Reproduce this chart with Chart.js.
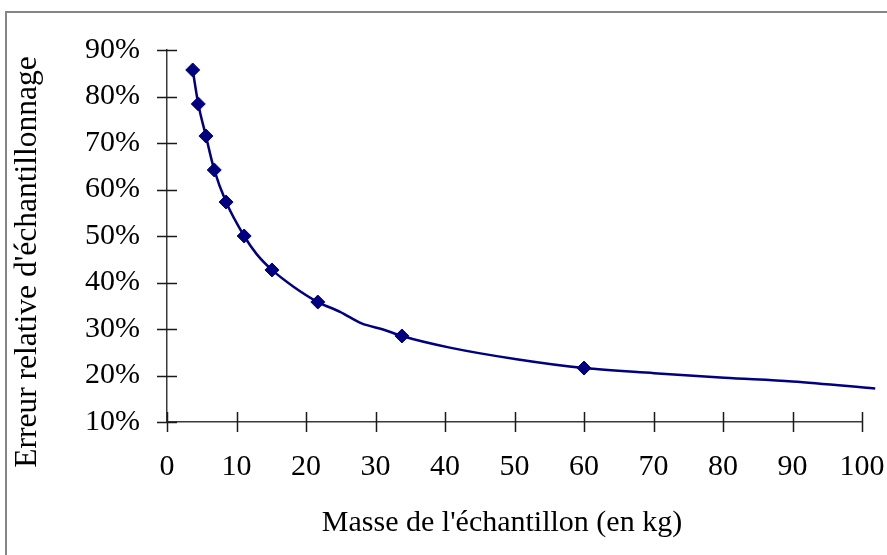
<!DOCTYPE html>
<html lang="fr">
<head>
    <meta charset="UTF-8">
    <title>Erreur relative d'échantillonnage</title>
    <script src="https://cdn.jsdelivr.net/npm/chart.js"></script>
    <style>
        body { margin: 0; background: #fff; }
        #wrap { position: relative; width: 887px; height: 555px; }
    </style>
</head>
<body>
<div id="wrap"><canvas id="errChart"></canvas></div>
<script>
    // measured samples (markers)
    const sampleMass = [3.7, 4.5, 5.6, 6.8, 8.5, 11.1, 15.1, 21.7, 33.8, 60];
    const sampleError = [85.7, 78.4, 71.5, 64.2, 57.3, 50.0, 42.7, 35.8, 28.5, 21.6];

    // fitted curve (no markers)
    const curveMass = [3.7, 4.5, 5.6, 6.8, 8.5, 11.1, 12.9, 15.1, 18.2, 21.7, 24.9, 28.0, 31.1, 33.8, 40.7, 50.3, 60, 70.1, 80.2, 90, 101.9];
    const curveError = [85.7, 78.4, 71.5, 64.2, 57.3, 50.0, 46.1, 42.7, 39.1, 35.8, 33.7, 31.2, 29.9, 28.5, 26.0, 23.5, 21.6, 20.5, 19.5, 18.7, 17.2];

    const xTicks = [0, 10, 20, 30, 40, 50, 60, 70, 80, 90, 100];
    const yTicks = [10, 20, 30, 40, 50, 60, 70, 80, 90];

    const xTitle = "Masse de l'échantillon (en kg)";
    const yTitle = "Erreur relative d'échantillonnage";
    const serif = '"Liberation Serif", "Times New Roman", serif';

    // outer frame like the Excel chart area
    const frame = {
        id: 'frame',
        beforeDraw(chart) {
            const ctx = chart.ctx;
            ctx.save();
            ctx.strokeStyle = '#858585';
            ctx.lineWidth = 2;
            ctx.strokeRect(6, 12, 1000, 1000);
            ctx.restore();
        }
    };

    // tick marks crossing the axes + axis titles
    const crossTicks = {
        id: 'crossTicks',
        beforeDatasetsDraw(chart) {
            const { ctx, scales: { x, y } } = chart;
            ctx.save();
            ctx.strokeStyle = '#1a1a1a';
            ctx.lineWidth = 1.5;
            ctx.beginPath();
            x.ticks.forEach(t => {
                const px = Math.round(x.getPixelForValue(t.value)) + 0.5;
                ctx.moveTo(px, x.top - 10);
                ctx.lineTo(px, x.top + 10);
            });
            y.ticks.forEach(t => {
                const py = Math.round(y.getPixelForValue(t.value)) + 0.5;
                ctx.moveTo(y.right - 10, py);
                ctx.lineTo(y.right + 10, py);
            });
            ctx.stroke();

            ctx.fillStyle = '#000';
            ctx.textAlign = 'center';
            ctx.textBaseline = 'middle';

            // x title is centred on the whole frame, not on the plot
            ctx.font = '30px ' + serif;
            ctx.fillText(xTitle, 502, 523);

            // y title sits a bit lower than the plot centre in the original
            ctx.translate(28, y.bottom - 160);
            ctx.rotate(-Math.PI / 2);
            ctx.font = '31.5px ' + serif;
            ctx.fillText(yTitle, 0, 0);
            ctx.restore();
        }
    };

    const ctx = document.getElementById('errChart').getContext('2d');
    new Chart(ctx, {
        type: 'scatter',
        data: {
            datasets: [{
                label: 'courbe',
                data: curveMass.map((m, i) => ({ x: m, y: curveError[i] })),
                showLine: true,
                borderColor: '#000080',
                borderWidth: 2.5,
                pointRadius: 0,
                cubicInterpolationMode: 'monotone',
                clip: false
            }, {
                label: 'échantillons',
                data: sampleMass.map((m, i) => ({ x: m, y: sampleError[i] })),
                showLine: false,
                pointStyle: 'rectRot',
                pointRadius: 7,
                backgroundColor: '#000080',
                borderColor: '#000080',
                borderWidth: 1
            }]
        },
        options: {
            responsive: true,
            maintainAspectRatio: false,
            animation: false,
            layout: { padding: { left: 5, top: 50, right: 25, bottom: 0 } },
            plugins: {
                legend: { display: false },
                tooltip: { enabled: false }
            },
            scales: {
                x: {
                    type: 'linear',
                    min: 0,
                    max: 100,
                    afterFit(scale) {
                        scale.height = 133;
                        // labels may hang over the edges, the layout padding covers it
                        scale.paddingLeft = 0;
                        scale.paddingRight = 0;
                    },
                    afterBuildTicks(scale) { scale.ticks = xTicks.map(v => ({ value: v })); },
                    grid: { display: true, drawOnChartArea: false, drawTicks: false },
                    border: { display: true, color: '#3a3a3a', width: 1.5 },
                    ticks: {
                        padding: 27,
                        color: '#000',
                        font: { family: serif, size: 30 }
                    }
                },
                y: {
                    type: 'linear',
                    min: 10,
                    max: 90,
                    afterFit(scale) { scale.width = 162; },
                    afterBuildTicks(scale) { scale.ticks = yTicks.map(v => ({ value: v })); },
                    grid: { display: true, drawOnChartArea: false, drawTicks: false },
                    border: { display: true, color: '#3a3a3a', width: 1.5 },
                    ticks: {
                        padding: 27,
                        color: '#000',
                        font: { family: serif, size: 30 },
                        callback: v => v + '%'
                    }
                }
            }
        },
        plugins: [frame, crossTicks]
    });
</script>
</body>
</html>
